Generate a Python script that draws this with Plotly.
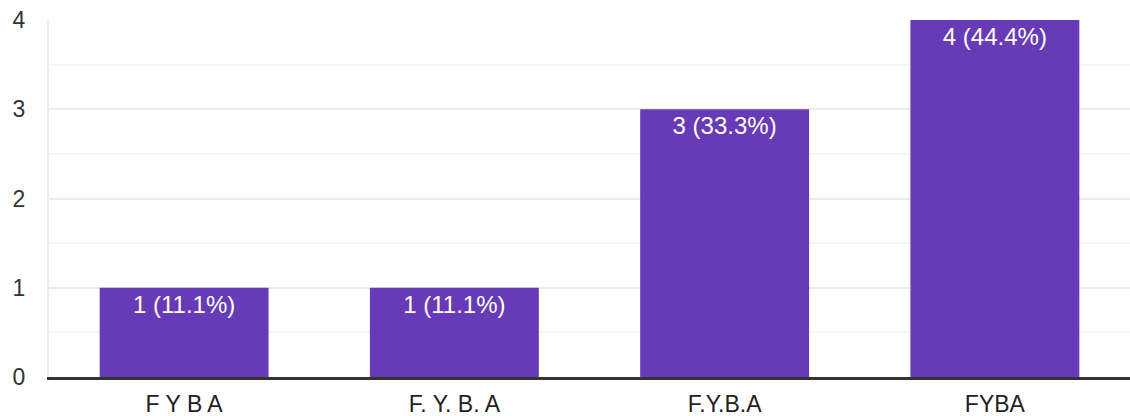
import plotly.graph_objects as go

categories = ["F Y B A", "F. Y. B. A", "F.Y.B.A", "FYBA"]
counts = [1, 1, 3, 4]
labels = ["1 (11.1%)", "1 (11.1%)", "3 (33.3%)", "4 (44.4%)"]

FONT = "Arial, Liberation Sans, sans-serif"

fig = go.Figure(go.Bar(
    x=categories, y=counts, text=labels,
    textposition="inside", insidetextanchor="end",
    textfont=dict(color="white", size=24, family=FONT),
    marker=dict(color="#673ab7", line=dict(width=0)),
    hoverinfo="skip",
))

fig.update_layout(
    width=1130, height=416,
    margin=dict(l=49, r=0, t=20, b=39),
    paper_bgcolor="white", plot_bgcolor="white",
    bargap=0.375,
    showlegend=False,
    uniformtext=dict(minsize=8, mode=False),
    font=dict(family=FONT, size=23, color="#333333"),
    xaxis=dict(
        showgrid=False, showline=True, linecolor="#333333", linewidth=3,
        ticks="", ticklabelstandoff=4,
        tickfont=dict(size=23, color="#222222"),
        fixedrange=True,
    ),
    yaxis=dict(
        range=[0, 4], dtick=1, tick0=0,
        showgrid=True, gridcolor="#ebebeb", gridwidth=2,
        minor=dict(dtick=0.5, showgrid=True, gridcolor="#f5f5f5", gridwidth=2),
        showline=True, linecolor="#ebebeb", linewidth=2,
        zeroline=False, ticks="", ticklabelstandoff=17,
        tickfont=dict(size=23, color="#333333"),
        fixedrange=True,
    ),
)

fig.write_html(
    "out.html",
    config={"displayModeBar": False},
    post_script="document.body.style.margin='0';document.body.style.overflow='hidden';",
)
